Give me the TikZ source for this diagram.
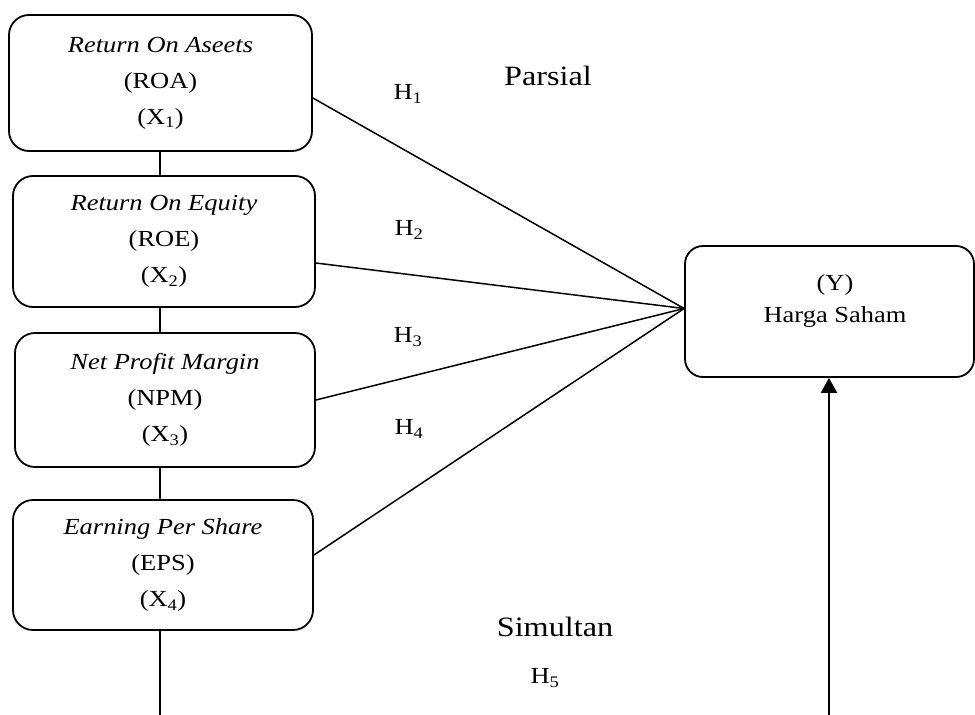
\documentclass[tikz,border=0pt]{standalone}
\usepackage{fontspec}
\setmainfont{Liberation Serif}[FakeStretch=1.15]
\usetikzlibrary{arrows.meta,calc}
\tikzset{
  varbox/.style={draw, line width=1.8pt, rounded corners=20pt, align=center,
    font=\fontsize{23}{36}\selectfont, inner sep=0pt},
  conn/.style={line width=1.5pt},
  hlabel/.style={font=\fontsize{23}{27}\selectfont, anchor=center, inner sep=0pt},
  biglabel/.style={font=\fontsize{28}{32}\selectfont, anchor=center, inner sep=0pt},
  ytext/.style={font=\fontsize{23}{27}\selectfont, anchor=base, inner sep=0pt},
}
\begin{document}
\begin{tikzpicture}[x=1pt,y=-1pt]
\useasboundingbox (0,0) rectangle (975,715);
% boxes
\node[varbox, minimum width=303pt, minimum height=136pt] (X1) at (160.5,83)
  {\textit{Return On Aseets}\\(ROA)\\(X\textsubscript{1})};
\node[varbox, minimum width=302pt, minimum height=131pt] (X2) at (164,241.5)
  {\textit{Return On Equity}\\(ROE)\\(X\textsubscript{2})};
\node[varbox, minimum width=300pt, minimum height=134pt] (X3) at (165,400)
  {\textit{Net Profit Margin}\\(NPM)\\(X\textsubscript{3})};
\node[varbox, minimum width=300pt, minimum height=130pt] (X4) at (163,565)
  {\textit{Earning Per Share}\\(EPS)\\(X\textsubscript{4})};
\node[varbox, rounded corners=18pt, minimum width=289pt, minimum height=131pt] (Y) at (829.5,311.5) {};
\node[ytext] (Ya) at (835,290) {(Y)};
\node[ytext] (Yb) at (835,322) {Harga Saham};
% labels
\node[biglabel] (parsial) at (548,76) {Parsial};
\node[biglabel] (simultan) at (555,627) {Simultan};
\node[hlabel] (h1) at (408,94) {H\textsubscript{1}};
\node[hlabel] (h2) at (409,230) {H\textsubscript{2}};
\node[hlabel] (h3) at (408,337) {H\textsubscript{3}};
\node[hlabel] (h4) at (409,429) {H\textsubscript{4}};
\node[hlabel] (h5) at (545,678) {H\textsubscript{5}};
% coordinates
\coordinate (spine) at (160,0);
\coordinate (meet) at ([yshift=3pt]Y.west);
\coordinate (bot1) at (160,715);
\coordinate (bot2) at (829,715);
% connectors
\draw[conn] (spine |- X1.south) -- (spine |- X2.north);
\draw[conn] (spine |- X2.south) -- (spine |- X3.north);
\draw[conn] (spine |- X3.south) -- (spine |- X4.north);
\draw[conn] (spine |- X4.south) -- (bot1);
\draw[conn] ([yshift=-15pt]X1.east) -- (meet);
\draw[conn] ([yshift=-21.5pt]X2.east) -- (meet);
\draw[conn] (X3.east) -- (meet);
\draw[conn] ([yshift=10pt]X4.east) -- (meet);
\draw[line width=2.4pt, -{Triangle[width=16pt,length=15pt]}] (bot2) -- (bot2 |- Y.south);
\end{tikzpicture}
\end{document}
